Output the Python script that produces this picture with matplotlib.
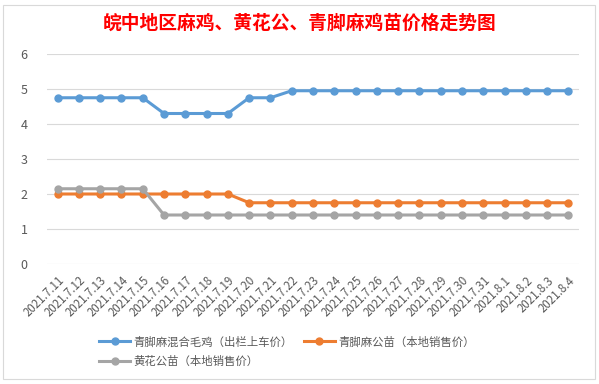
import matplotlib.pyplot as plt
from matplotlib.patches import Rectangle

plt.rcParams['font.family'] = ['Noto Sans CJK SC', 'DejaVu Sans']

# data
dates = ['2021.7.11', '2021.7.12', '2021.7.13', '2021.7.14', '2021.7.15',
         '2021.7.16', '2021.7.17', '2021.7.18', '2021.7.19', '2021.7.20',
         '2021.7.21', '2021.7.22', '2021.7.23', '2021.7.24', '2021.7.25',
         '2021.7.26', '2021.7.27', '2021.7.28', '2021.7.29', '2021.7.30',
         '2021.7.31', '2021.8.1', '2021.8.2', '2021.8.3', '2021.8.4']
mixed_chicken = [4.75] * 5 + [4.3] * 4 + [4.75] * 2 + [4.95] * 14
qingjiao_rooster = [2.0] * 9 + [1.75] * 16
huanghua_rooster = [2.15] * 5 + [1.4] * 20

names = ['青脚麻混合毛鸡（出栏上车价）', '青脚麻公苗（本地销售价）', '黄花公苗（本地销售价）']
colors = ['#5b9bd5', '#ed7d31', '#a5a5a5']

fig = plt.figure(figsize=(5.99, 3.84), dpi=100)
ax = fig.add_axes([47 / 599, 1 - 264 / 384, 532 / 599, 210 / 384])

x = list(range(len(dates)))
lines = []
for ys, name, c in zip([mixed_chicken, qingjiao_rooster, huanghua_rooster], names, colors):
    ln, = ax.plot(x, ys, color=c, lw=2.2, marker='o', ms=5, label=name, zorder=3)
    lines.append(ln)

ax.set_xlim(-0.5, len(dates) - 0.5)
ax.set_ylim(0, 6)
ax.set_yticks(range(7))
ax.grid(axis='y', color='#d9d9d9', lw=0.8)
ax.set_axisbelow(True)
for s in ax.spines.values():
    s.set_visible(False)
ax.tick_params(axis='both', length=0, colors='#595959', labelsize=8.3)
ax.tick_params(axis='x', pad=7)
ax.tick_params(axis='y', pad=14, labelsize=9)
ax.set_xticks(x)
ax.set_xticklabels(dates, rotation=45, ha='right', rotation_mode='anchor')

fig.text(0.5, 1 - 23 / 384, '皖中地区麻鸡、黄花公、青脚麻鸡苗价格走势图',
         color='#ff0000', fontsize=13.5, fontweight='bold', ha='center', va='center')

fig.legend([lines[0], lines[2], lines[1]], [names[0], names[2], names[1]],
           ncol=2, loc='upper left', bbox_to_anchor=(89 / 599, 1 - 326 / 384),
           frameon=False, fontsize=8.2, labelcolor='#595959',
           handlelength=2.7, columnspacing=1.0, handletextpad=0.3, labelspacing=0.75)

# chart frame
fig.patches.append(Rectangle((3 / 599, 5 / 384), 592 / 599, 374 / 384, transform=fig.transFigure,
                             fill=False, ec='#d9d9d9', lw=0.8))

fig.savefig('out.png', dpi=100)
